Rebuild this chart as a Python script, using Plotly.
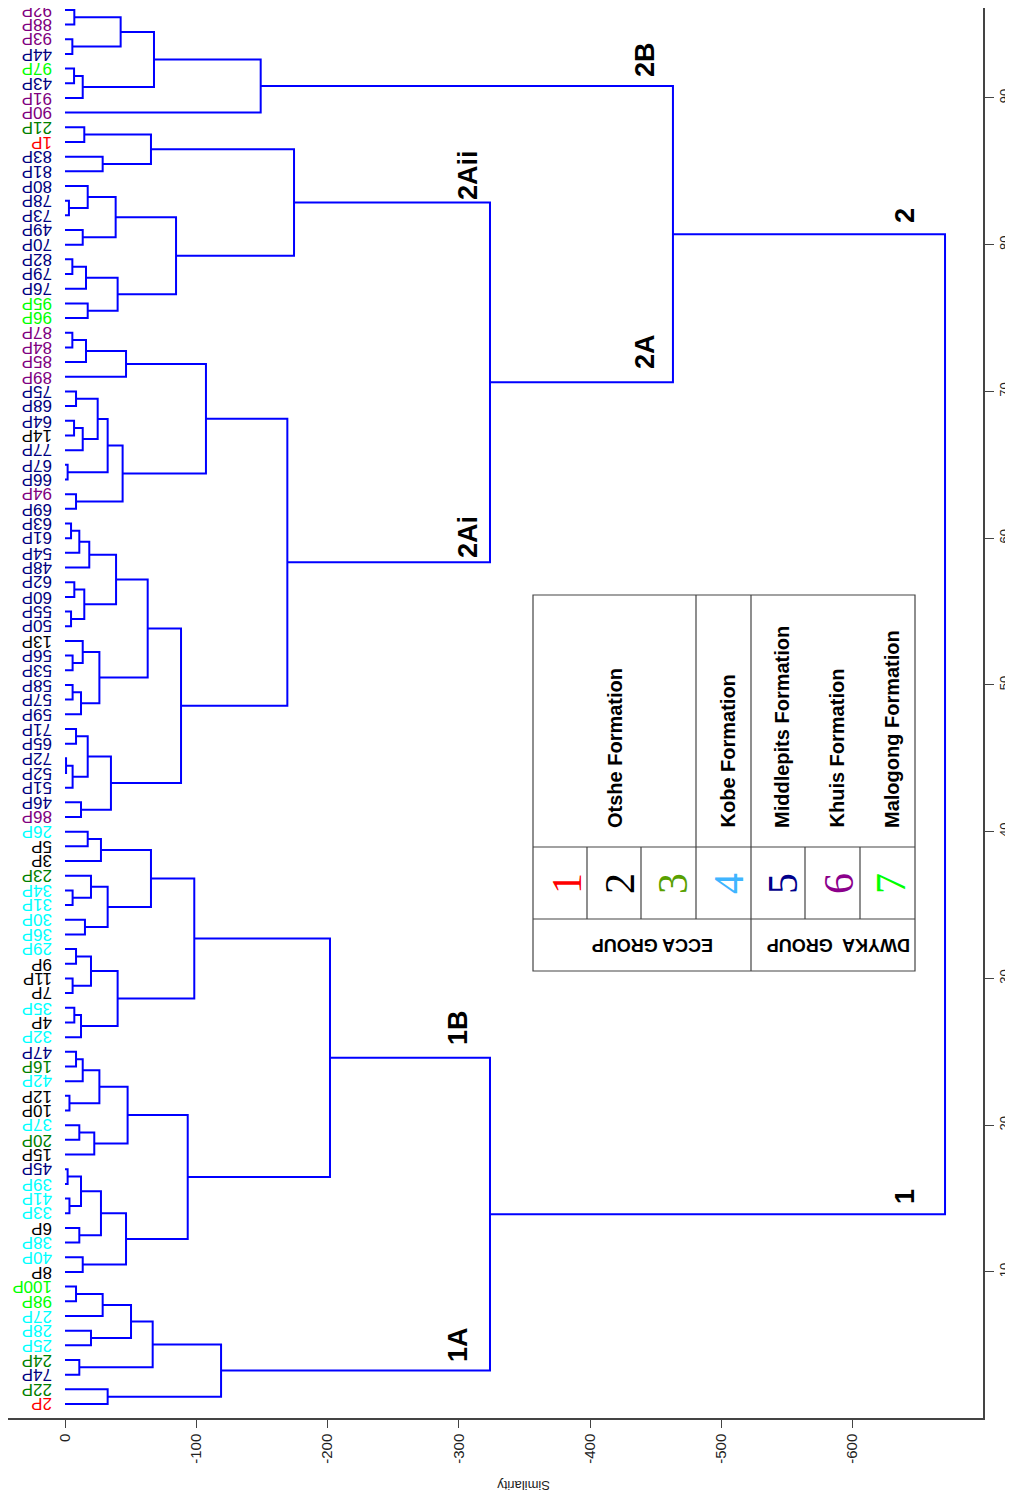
import plotly.graph_objects as go

# leaves from bottom (position 1) to top (position 96)
LEAVES = [
    "2P", "22P", "74P", "24P", "25P", "28P", "27P", "98P", "100P", "8P",
    "40P", "38P", "6P", "33P", "41P", "39P", "45P", "15P", "20P", "37P",
    "10P", "12P", "42P", "16P", "47P", "32P", "4P", "35P", "7P", "11P",
    "9P", "29P", "36P", "30P", "31P", "34P", "23P", "3P", "5P", "26P",
    "86P", "46P", "51P", "52P", "72P", "65P", "71P", "59P", "57P", "58P",
    "53P", "56P", "13P", "50P", "55P", "60P", "62P", "48P", "54P", "61P",
    "63P", "69P", "94P", "66P", "67P", "77P", "14P", "64P", "68P", "75P",
    "89P", "85P", "84P", "87P", "96P", "95P", "76P", "79P", "82P", "70P",
    "49P", "73P", "78P", "80P", "81P", "83P", "1P", "21P", "90P", "91P",
    "43P", "97P", "44P", "93P", "88P", "92P",
]
FORMATION = [
    1, 3, 5, 3, 4, 4, 4, 7, 7, 2,
    4, 4, 2, 4, 4, 4, 5, 2, 3, 4,
    2, 2, 4, 3, 5, 4, 2, 4, 2, 2,
    2, 4, 4, 4, 4, 4, 3, 2, 2, 4,
    6, 5, 5, 5, 5, 5, 5, 5, 5, 5,
    5, 5, 2, 5, 5, 5, 5, 5, 5, 5,
    5, 5, 6, 5, 5, 5, 2, 5, 5, 5,
    6, 6, 6, 6, 7, 7, 5, 5, 5, 5,
    5, 5, 5, 5, 5, 5, 1, 3, 6, 6,
    5, 7, 5, 6, 6, 6,
]

# linkage: (child a, child b, similarity); ints refer to earlier merges
MERGES = [
    ("92P", "88P", -7.1), ("93P", "44P", -5.6), (0, 1, -42.4),
    ("97P", "43P", -6.9), (3, "91P", -13.5), (2, 4, -67.8), (5, "90P", -149.1),
    ("21P", "1P", -14.7), ("83P", "81P", -28.7), (7, 8, -65.5),
    ("78P", "73P", -3.0), ("80P", 10, -17.3), ("49P", "70P", -13.5), (11, 12, -38.6),
    ("82P", "79P", -5.6), (14, "76P", -16.0), ("95P", "96P", -17.3), (15, 16, -40.1),
    (13, 17, -84.6), (9, 18, -174.5),
    ("87P", "84P", -5.6), (20, "85P", -16.0), (21, "89P", -46.5),
    ("75P", "68P", -8.4), ("64P", "14P", -6.9), (24, "77P", -13.5), (23, 25, -24.9),
    ("67P", "66P", -2.0), (26, 27, -32.5), ("94P", "69P", -8.4), (28, 29, -43.9),
    (22, 30, -107.4),
    ("63P", "61P", -4.6), (32, "54P", -10.9), (33, "48P", -18.5),
    ("62P", "60P", -7.1), ("55P", "50P", -4.6), (35, 36, -14.7), (34, 37, -38.9),
    ("56P", "53P", -5.8), ("13P", 39, -13.5), ("58P", "57P", -5.8), (41, "59P", -12.2),
    (40, 42, -26.2), (38, 43, -63.0),
    ("71P", "65P", -8.4), ("72P", "52P", -0.8), (46, "51P", -5.8), (45, 47, -17.3),
    ("46P", "86P", -12.2), (48, 49, -35.0), (44, 50, -88.4),
    (31, 51, -169.4), (19, 52, -323.8), (6, 53, -463.2),
    ("26P", "5P", -17.3), (55, "3P", -27.4), ("34P", "31P", -5.8), ("23P", 57, -19.8),
    ("30P", "36P", -15.2), (58, 59, -32.5), (56, 60, -65.5),
    ("29P", "9P", -8.4), ("11P", "7P", -5.8), (62, 63, -19.8),
    ("35P", "4P", -7.1), (65, "32P", -12.2), (64, 66, -40.1), (61, 67, -98.5),
    ("47P", "16P", -8.4), (69, "42P", -13.5), ("12P", "10P", -3.4), (70, 71, -26.2),
    ("37P", "20P", -10.9), (73, "15P", -22.3), (72, 74, -47.7),
    ("45P", "39P", -2.0), ("41P", "33P", -3.4), (76, 77, -12.2),
    ("6P", "38P", -10.9), (78, 79, -27.4), ("40P", "8P", -13.5), (80, 81, -46.5),
    (75, 82, -93.5), (68, 83, -201.9),
    ("100P", "98P", -8.4), (85, "27P", -28.7), ("28P", "25P", -19.8), (86, 87, -50.3),
    ("24P", "74P", -10.9), (88, 89, -66.8), ("22P", "2P", -32.5), (90, 91, -118.9),
    (84, 92, -323.8), (54, 93, -670.5),
]

SIM_TICKS = [0, -100, -200, -300, -400, -500, -600]
POS_TICKS = [10, 20, 30, 40, 50, 60, 70, 80, 90]

TABLE_NUMBERS = ["1", "2", "3", "4", "5", "6", "7"]
TABLE_FORMATIONS = ["Otshe Formation", "Kobe Formation", "Middlepits Formation",
                    "Khuis Formation", "Malogong Formation"]
TABLE_GROUPS = ["ECCA GROUP", "DWYKA  GROUP"]

LEAF_COLORS = {1: "#FF0000", 2: "#000000", 3: "#008000", 4: "#00FFFF",
               5: "#000080", 6: "#800080", 7: "#00FF00"}
NUM_COLORS = ["#FF0000", "#000000", "#58A000", "#3FB5FF", "#00008B", "#8B008B", "#00FF00"]

# page layout (page pixels; the figure div sits 8px in from the page corner)
OFF = 8
W, H = 1013 - OFF, 1504 - OFF
PLOT_R, PLOT_B = 983, 1418
X0_PX, X_SCALE = 65, 1.3125
Y1_PX, Y_STEP = 1404, 14.675
FONT = "Arial, Liberation Sans, sans-serif"
LINE = "#444444"


def px(x):
    return (x - OFF) / (PLOT_R - OFF)


def py(y):
    return 1 - (y - OFF) / (PLOT_B - OFF)


pos = {name: i + 1 for i, name in enumerate(LEAVES)}
height = {name: 0.0 for name in LEAVES}
xs, ys = [], []
for k, (a, b, h) in enumerate(MERGES):
    xs += [height[a], h, h, height[b], None]
    ys += [pos[a], pos[a], pos[b], pos[b], None]
    pos[k] = (pos[a] + pos[b]) / 2
    height[k] = h

fig = go.Figure()
fig.add_trace(go.Scatter(x=xs, y=ys, mode="lines", line=dict(color="#0000FF", width=2),
                         hoverinfo="skip", showlegend=False))

annotations = []
for i, name in enumerate(LEAVES):
    annotations.append(dict(
        x=0, y=i + 1, xref="x", yref="y", text=name, showarrow=False,
        textangle=180, xanchor="right", yanchor="middle", xshift=-11,
        font=dict(family=FONT, size=17, color=LEAF_COLORS[FORMATION[i]]),
    ))

cluster_tags = [("2B", 645, 60), ("2A", 645, 352), ("2Aii", 468, 175), ("2Ai", 468, 537),
                ("1B", 458, 1028), ("1A", 458, 1345), ("2", 905, 216), ("1", 905, 1197)]
for text, x, y in cluster_tags:
    annotations.append(dict(
        x=px(x), y=py(y), xref="paper", yref="paper", text=f"<b>{text}</b>",
        showarrow=False, textangle=-90, xanchor="center", yanchor="middle",
        font=dict(family=FONT, size=27, color="#000000"),
    ))

# inset legend table (page pixels)
TL, TR, TT, TB = 533, 915, 595, 971
ROW1, ROW2 = 847, 919


def seg(x0, y0, x1, y1):
    return dict(type="line", xref="paper", yref="paper", x0=px(x0), x1=px(x1),
                y0=py(y0), y1=py(y1), line=dict(color=LINE, width=1.2))


shapes = [dict(type="rect", xref="paper", yref="paper", x0=px(TL), x1=px(TR),
               y0=py(TB), y1=py(TT), line=dict(color=LINE, width=1.2), fillcolor="white")]
shapes += [seg(TL, y, TR, y) for y in (ROW1, ROW2)]
shapes.append(seg(751, TT, 751, TB))
shapes.append(seg(696, TT, 696, ROW2))
shapes += [seg(x, ROW1, x, ROW2) for x in (587, 641, 805, 860)]

for text, x in zip(TABLE_FORMATIONS, [615, 728, 782, 837, 892]):
    annotations.append(dict(
        x=px(x), y=py(830), xref="paper", yref="paper", text=f"<b>{text}</b>",
        showarrow=False, textangle=-90, xanchor="center", yanchor="bottom",
        font=dict(family=FONT, size=20, color="#000000"),
    ))
for text, color, x in zip(TABLE_NUMBERS, NUM_COLORS, [567, 620, 673, 729, 783, 839, 891]):
    annotations.append(dict(
        x=px(x), y=py(884), xref="paper", yref="paper", text=text, showarrow=False,
        textangle=-90, xanchor="center", yanchor="middle",
        font=dict(family="Liberation Serif, Times New Roman, serif", size=42, color=color),
    ))
for text, x in zip(TABLE_GROUPS, [653, 839]):
    annotations.append(dict(
        x=px(x), y=py(945), xref="paper", yref="paper", text=f"<b>{text}</b>",
        showarrow=False, textangle=180, xanchor="center", yanchor="middle",
        font=dict(family=FONT, size=18, color="#000000"),
    ))

annotations.append(dict(
    x=px(524), y=py(1485), xref="paper", yref="paper", text="Similarity", showarrow=False,
    textangle=180, xanchor="center", yanchor="middle",
    font=dict(family=FONT, size=13, color="#222222"),
))

fig.update_layout(
    width=W, height=H,
    margin=dict(l=0, r=OFF + W - PLOT_R, t=0, b=OFF + H - PLOT_B, autoexpand=False),
    paper_bgcolor="white", plot_bgcolor="white",
    showlegend=False,
    annotations=annotations,
    shapes=shapes,
    xaxis=dict(
        range=[(X0_PX - OFF) / X_SCALE, -(PLOT_R - X0_PX) / X_SCALE],
        tickvals=SIM_TICKS, ticktext=[str(v) for v in SIM_TICKS], tickangle=-90,
        ticks="outside", ticklen=8, tickcolor=LINE, showline=True, linecolor=LINE,
        linewidth=1.5, showgrid=False, zeroline=False,
        tickfont=dict(family=FONT, size=15, color="#222222"),
    ),
    yaxis=dict(
        range=[1 - (PLOT_B - Y1_PX) / Y_STEP, 1 + (Y1_PX - OFF) / Y_STEP], side="right",
        tickvals=POS_TICKS, tickangle=-90, ticks="outside", ticklen=9, tickcolor=LINE,
        showline=True, linecolor=LINE, linewidth=1.5, showgrid=False, zeroline=False,
        tickfont=dict(family=FONT, size=13, color="#222222"),
    ),
)

fig.write_html("out.html")
